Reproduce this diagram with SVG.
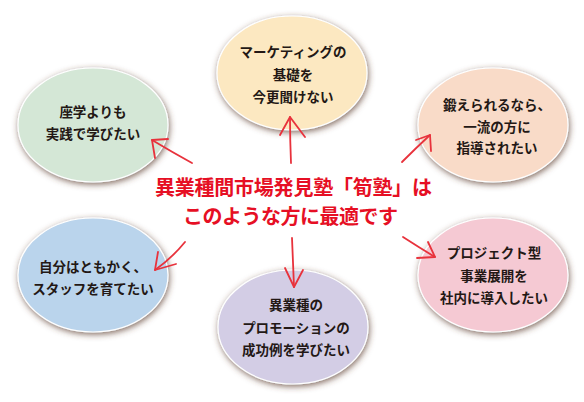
<svg xmlns="http://www.w3.org/2000/svg" width="584" height="402" viewBox="0 0 584 402">
  <defs>
    <filter id="sh" x="-20%" y="-20%" width="140%" height="150%">
      <feGaussianBlur in="SourceAlpha" stdDeviation="3"/>
      <feOffset dx="1" dy="2" result="b"/>
      <feFlood flood-color="#5b3b2c" flood-opacity="0.75"/>
      <feComposite in2="b" operator="in"/>
      <feMerge><feMergeNode/><feMergeNode in="SourceGraphic"/></feMerge>
    </filter>
  </defs>
  <style>
    .bub { stroke: #ffffff; stroke-width: 1.2; filter: url(#sh); }
    .t { font-family: "Noto Sans CJK JP", "Noto Sans", sans-serif; font-weight: bold; font-size: 13.5px; fill: #231815; text-anchor: middle; }
    .c { font-family: "Noto Sans CJK JP", "Noto Sans", sans-serif; font-weight: bold; font-size: 20px; fill: #e60f24; text-anchor: middle; }
    .ar { fill: none; stroke: #e8323c; stroke-width: 1.8; stroke-linecap: round; stroke-linejoin: round; }
  </style>
  <rect width="584" height="402" fill="#ffffff"/>

  <g id="node-top">
    <ellipse class="bub" cx="292" cy="73" rx="75" ry="57" fill="#fce8c1"/>
    <text class="t" x="293" y="57">マーケティングの</text>
    <text class="t" x="293" y="80">基礎を</text>
    <text class="t" x="293" y="102">今更聞けない</text>
  </g>
  <g id="node-topleft">
    <ellipse class="bub" cx="93" cy="125" rx="75" ry="57" fill="#d4e7d6"/>
    <text class="t" x="93" y="117">座学よりも</text>
    <text class="t" x="93" y="139">実践で学びたい</text>
  </g>
  <g id="node-topright">
    <ellipse class="bub" cx="493" cy="125" rx="75" ry="57" fill="#f9dbc8"/>
    <text class="t" x="497" y="110">鍛えられるなら、</text>
    <text class="t" x="497" y="132">一流の方に</text>
    <text class="t" x="497" y="153">指導されたい</text>
  </g>
  <g id="node-bottomleft">
    <ellipse class="bub" cx="93" cy="275" rx="75" ry="57" fill="#bad4ec"/>
    <text class="t" x="93" y="272">自分はともかく、</text>
    <text class="t" x="93" y="294">スタッフを育てたい</text>
  </g>
  <g id="node-bottomright">
    <ellipse class="bub" cx="493" cy="275" rx="75" ry="57" fill="#f5c9d3"/>
    <text class="t" x="494" y="258">プロジェクト型</text>
    <text class="t" x="494" y="281">事業展開を</text>
    <text class="t" x="494" y="303">社内に導入したい</text>
  </g>
  <g id="node-bottom">
    <ellipse class="bub" cx="293" cy="327" rx="75" ry="57" fill="#d3cde5"/>
    <text class="t" x="296" y="310">異業種の</text>
    <text class="t" x="296" y="333">プロモーションの</text>
    <text class="t" x="296" y="355">成功例を学びたい</text>
  </g>

  <g id="center">
    <text class="c" x="293.5" y="195" textLength="277" lengthAdjust="spacing">異業種間市場発見塾「筍塾」は</text>
    <text class="c" x="290.5" y="224" textLength="215" lengthAdjust="spacing">このような方に最適です</text>
  </g>

  <g id="connectors">
    <path class="ar" d="M291 163 Q290 140 290 117"/>
    <path class="ar" d="M280 135 L290 117 L305 137"/>
    <path class="ar" d="M192 163 Q172 152 152 140"/>
    <path class="ar" d="M155 158 L152 140 L168 139"/>
    <path class="ar" d="M402 162 Q416 148 430 135"/>
    <path class="ar" d="M416 140 L430 135 L431 151"/>
    <path class="ar" d="M185 242 Q172 258 155 270"/>
    <path class="ar" d="M158 252 L155 270 L176 264"/>
    <path class="ar" d="M403 237 Q420 248 435 257"/>
    <path class="ar" d="M417 258 L435 257 L428 242"/>
    <path class="ar" d="M292 238 Q293 262 294 287"/>
    <path class="ar" d="M285 268 L294 287 L303 270"/>
  </g>
</svg>
